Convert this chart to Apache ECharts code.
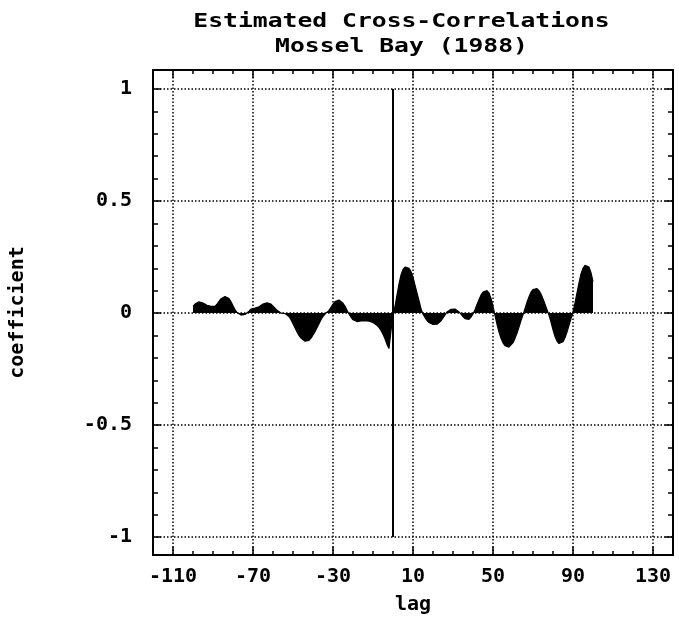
<!DOCTYPE html>
<html>
<head>
<meta charset="utf-8">
<script src="https://cdn.jsdelivr.net/npm/echarts@6/dist/echarts.min.js"></script>
<style>
  html, body { margin: 0; padding: 0; background: #fff; }
  #chart { width: 679px; height: 620px; }
</style>
</head>
<body>
<div id="chart"></div>
<script>
// ---- data ----
const titleLines = ['Estimated Cross-Correlations', 'Mossel Bay (1988)'];
const xAxisName = 'lag';
const yAxisName = 'coefficient';

const xMajorTicks = [-110, -70, -30, 10, 50, 90, 130];
const yMajorTicks = [-1, -0.5, 0, 0.5, 1];
const yMinorTicks = [-1, -0.9, -0.8, -0.7, -0.6, -0.5, -0.4, -0.3, -0.2, -0.1, 0,
                     0.1, 0.2, 0.3, 0.4, 0.5, 0.6, 0.7, 0.8, 0.9, 1];

const firstLag = -100;
// lags -100 .. -1
const coefNegLags = [
  0.03, 0.04, 0.045, 0.05, 0.05, 0.045, 0.04, 0.035, 0.03, 0.03,
  0.028, 0.03, 0.04, 0.052, 0.064, 0.07, 0.074, 0.072, 0.065, 0.05,
  0.032, 0.015, 0.002, -0.006, -0.009, -0.009, -0.006, -0.002, 0.008, 0.018,
  0.022, 0.022, 0.025, 0.028, 0.033, 0.04, 0.044, 0.046, 0.045, 0.04,
  0.032, 0.022, 0.012, 0.004, 0.0, -0.002, -0.002, -0.005, -0.015, -0.03,
  -0.048, -0.066, -0.084, -0.1, -0.112, -0.12, -0.126, -0.127, -0.122, -0.112,
  -0.098, -0.083, -0.066, -0.048, -0.03, -0.015, -0.005, 0.002, 0.012, 0.026,
  0.04, 0.051, 0.057, 0.058, 0.054, 0.044, 0.03, 0.012, -0.004, -0.018,
  -0.03, -0.036, -0.038, -0.037, -0.035, -0.034, -0.034, -0.035, -0.036, -0.038,
  -0.042, -0.048, -0.055, -0.064, -0.078, -0.095, -0.115, -0.14, -0.158, -0.15
];
// lag 0
const coefLagZero = [0.0];
// lags 1 .. 100
const coefPosLags = [
  0.03, 0.08, 0.13, 0.17, 0.195, 0.205, 0.207, 0.2, 0.185, 0.16,
  0.125, 0.09, 0.055, 0.02, -0.005, -0.02, -0.033, -0.042, -0.048, -0.051,
  -0.052, -0.05, -0.045, -0.035, -0.022, -0.008, 0.005, 0.012, 0.017, 0.019,
  0.018, 0.013, 0.005, -0.005, -0.016, -0.025, -0.03, -0.028, -0.018, -0.004,
  0.015, 0.038, 0.06, 0.08, 0.094, 0.1, 0.1, 0.09, 0.065, 0.03,
  -0.01, -0.05, -0.085, -0.113, -0.133, -0.146, -0.152, -0.152, -0.145, -0.132,
  -0.113, -0.09, -0.062, -0.033, -0.008, 0.02, 0.048, 0.073, 0.093, 0.105,
  0.11, 0.109, 0.1, 0.085, 0.063, 0.04, 0.015, -0.01, -0.04, -0.075,
  -0.105, -0.125, -0.136, -0.137, -0.128, -0.11, -0.085, -0.055, -0.025, 0.005,
  0.045, 0.09, 0.135, 0.175, 0.2, 0.213, 0.215, 0.205, 0.18, 0.14
];
// reference line drawn at lag 0
const zeroLagLine = [[0, -1], [0, 1]];

// ---- build ----
const coef = coefNegLags.concat(coefLagZero, coefPosLags);
const ccfData = coef.map((v, i) => [firstLag + i, v]);

const FONT = 'DejaVu Sans Mono';
const labelStyle = { fontFamily: FONT, fontWeight: 'bold', fontSize: 20, color: '#000' };
const dotted = { color: '#000', width: 1.5, type: [1.5, 2] };
const X_MIN = -120, X_MAX = 140, Y_MIN = -1.08, Y_MAX = 1.085;

function xAx(pos, major, showLabel) {
  const a = {
    type: 'value', position: pos, min: X_MIN, max: X_MAX,
    axisLine: { show: false, onZero: false },
    axisTick: { show: true, inside: true, length: major ? 8 : 4, lineStyle: { color: '#000', width: 1.5 } },
    axisLabel: { show: showLabel },
    splitLine: { show: false }
  };
  if (major) {
    a.axisTick.customValues = xMajorTicks;
    a.axisLabel = Object.assign({ show: showLabel, customValues: xMajorTicks, margin: 12 }, labelStyle);
  } else {
    a.interval = 10;
  }
  if (major && showLabel) {
    a.splitLine = { show: true, lineStyle: dotted };
    a.name = xAxisName;
    a.nameLocation = 'middle';
    a.nameGap = 40;
    a.nameTextStyle = labelStyle;
  }
  return a;
}
function yAx(pos, major, showLabel) {
  const ticks = major ? yMajorTicks : yMinorTicks;
  const a = {
    type: 'value', position: pos, min: Y_MIN, max: Y_MAX,
    axisLine: { show: false, onZero: false },
    axisTick: { show: true, inside: true, length: major ? 8 : 5, customValues: ticks, lineStyle: { color: '#000', width: 1.5 } },
    axisLabel: Object.assign({ show: showLabel, customValues: ticks, margin: 21 }, labelStyle),
    splitLine: { show: false }
  };
  if (major && showLabel) {
    a.splitLine = { show: true, lineStyle: dotted };
    a.name = yAxisName;
    a.nameLocation = 'middle';
    a.nameGap = 125;
    a.nameRotate = 90;
    a.nameTextStyle = labelStyle;
  }
  return a;
}

const chart = echarts.init(document.getElementById('chart'), null, { renderer: 'canvas' });
chart.setOption({
  animation: false,
  backgroundColor: '#fff',
  graphic: [
    {
      type: 'text', x: 401.5, y: 22, scaleX: 1.3, scaleY: 1,
      style: { text: titleLines[0], font: 'bold 19px "DejaVu Sans Mono"', fill: '#000', align: 'center', verticalAlign: 'middle' }
    },
    {
      type: 'text', x: 401.5, y: 47, scaleX: 1.3, scaleY: 1,
      style: { text: titleLines[1], font: 'bold 19px "DejaVu Sans Mono"', fill: '#000', align: 'center', verticalAlign: 'middle' }
    }
  ],
  grid: {
    left: 152, right: 6, top: 70, bottom: 65,
    show: true, borderColor: '#000', borderWidth: 2, backgroundColor: 'transparent'
  },
  xAxis: [
    xAx('bottom', true, true),
    xAx('bottom', false, false),
    xAx('top', true, false),
    xAx('top', false, false)
  ],
  yAxis: [
    yAx('left', true, true),
    yAx('left', false, false),
    yAx('right', true, false),
    yAx('right', false, false)
  ],
  series: [
    {
      type: 'line', xAxisIndex: 0, yAxisIndex: 0,
      data: ccfData, showSymbol: false, symbol: 'none',
      lineStyle: { color: '#000', width: 1.2 },
      areaStyle: { color: '#000', opacity: 1, origin: 0 },
      z: 3
    },
    {
      type: 'line', xAxisIndex: 0, yAxisIndex: 0,
      data: zeroLagLine, showSymbol: false, symbol: 'none',
      lineStyle: { color: '#000', width: 2 },
      z: 4
    }
  ]
});
</script>
</body>
</html>
